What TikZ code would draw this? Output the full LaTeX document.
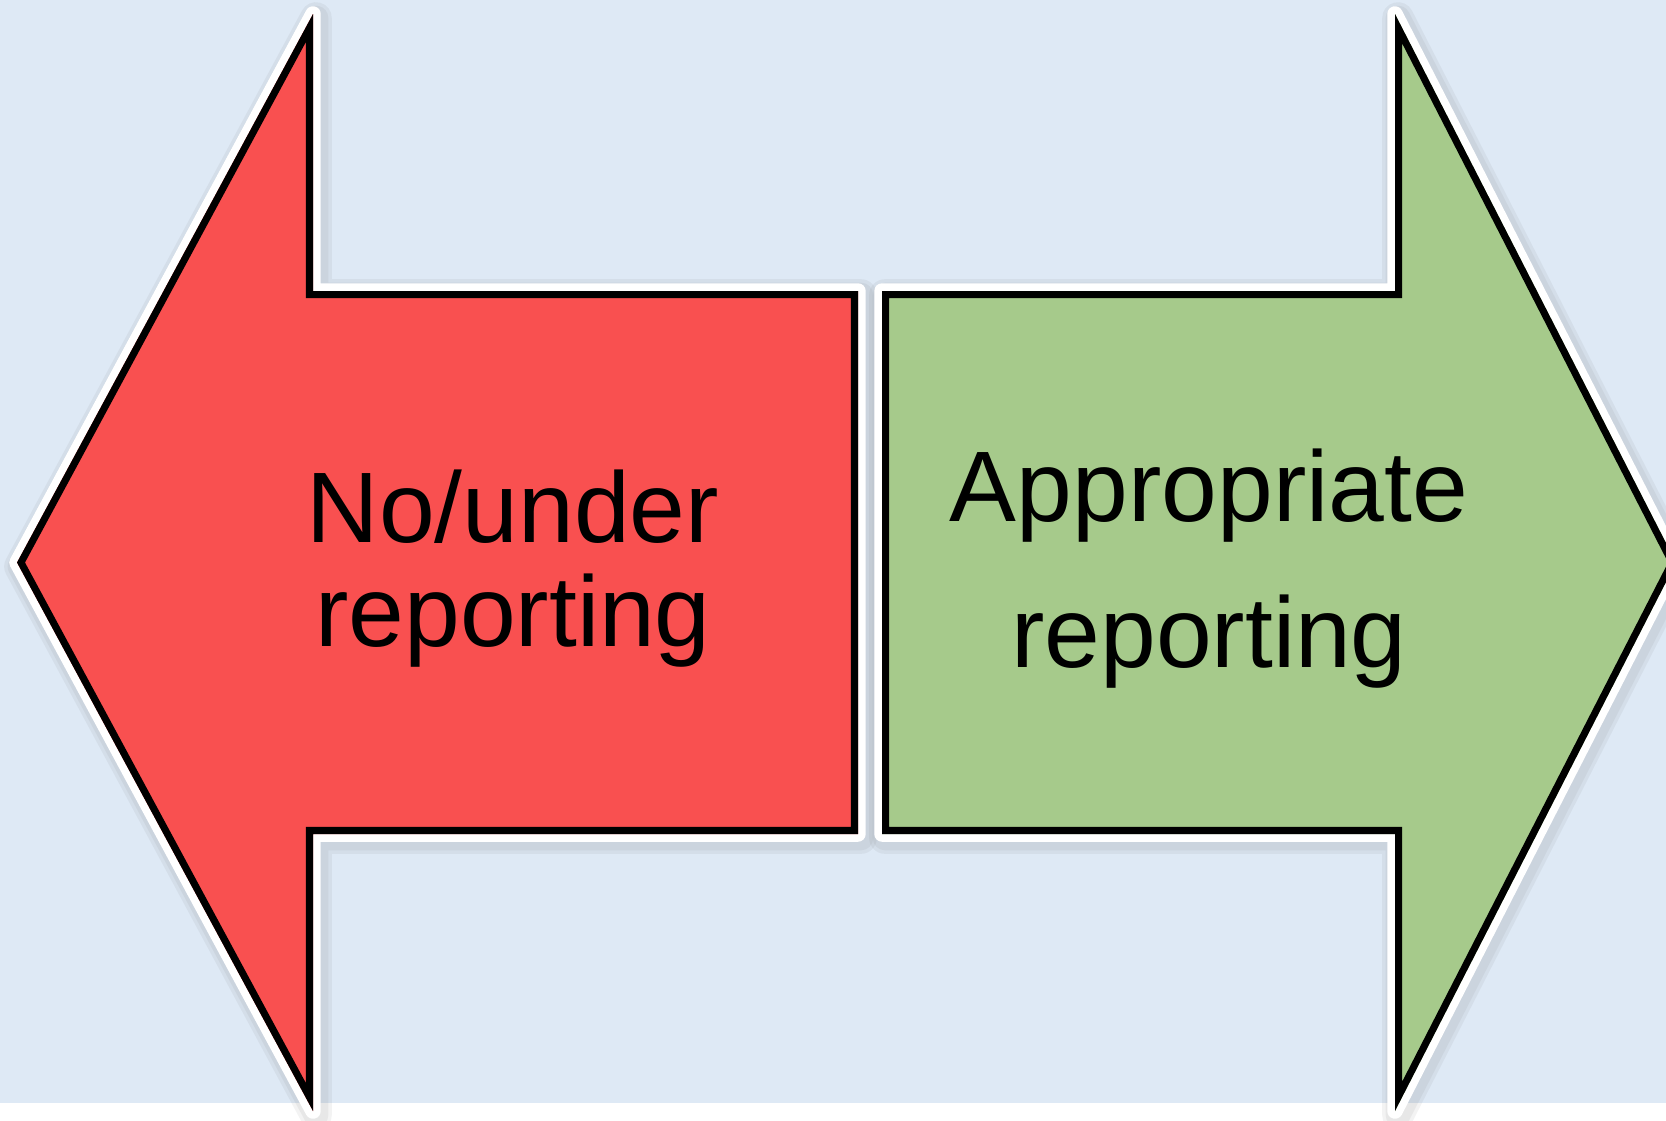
\documentclass[tikz,border=0pt]{standalone}
\usepackage{fontspec}
\setmainfont{Liberation Sans}
\usepackage{tikz}
\definecolor{bgblue}{RGB}{222,233,245}
\definecolor{arrowred}{RGB}{249,80,80}
\definecolor{arrowgreen}{RGB}{166,202,139}
\tikzset{
  shadowedge/.style={draw=black!60,opacity=0.08,line join=round},
  whiteedge/.style={draw=white,line width=4.4pt,line join=round},
  blackedge/.style={draw=black,line width=4pt,line join=miter},
  bigtext/.style={align=center,font=\fontsize{28.5}{#1}\selectfont}
}
% outlines of the two arrows
\newcommand{\noshape}{(17,562.5) -- (313,14) -- (313,291) -- (858,291) -- (858,834) -- (313,834) -- (313,1111) -- cycle}
\newcommand{\okshape}{(1676,562.5) -- (1395,14) -- (1395,291) -- (882,291) -- (882,834) -- (1395,834) -- (1395,1111) -- cycle}
\begin{document}
\begin{tikzpicture}[x=0.01cm,y=-0.01cm]
\useasboundingbox (0,0) rectangle (1666,1120);
\clip (0,0) rectangle (1666,1120);
% background
\fill[white] (0,0) rectangle (1666,1120);
\fill[bgblue] (0,0) rectangle (1666,1103);
% shadows
\begin{scope}[shift={(3,4)}]
\draw[shadowedge,line width=9pt] \noshape;
\draw[shadowedge,line width=7pt] \noshape;
\draw[shadowedge,line width=9pt] \okshape;
\draw[shadowedge,line width=7pt] \okshape;
\end{scope}
% left arrow
\draw[whiteedge] \noshape;
\fill[arrowred] \noshape;
\begin{scope}
\clip \noshape;
\draw[blackedge] \noshape;
\end{scope}
% right arrow
\draw[whiteedge] \okshape;
\fill[arrowgreen] \okshape;
\begin{scope}
\clip \okshape;
\draw[blackedge] \okshape;
\end{scope}
% labels
\node[bigtext=29.6] (noreport) at (513,569) {No/under\\reporting};
\node[bigtext=41.5] (okreport) at (1209,569) {Appropriate\\reporting};
\end{tikzpicture}
\end{document}
